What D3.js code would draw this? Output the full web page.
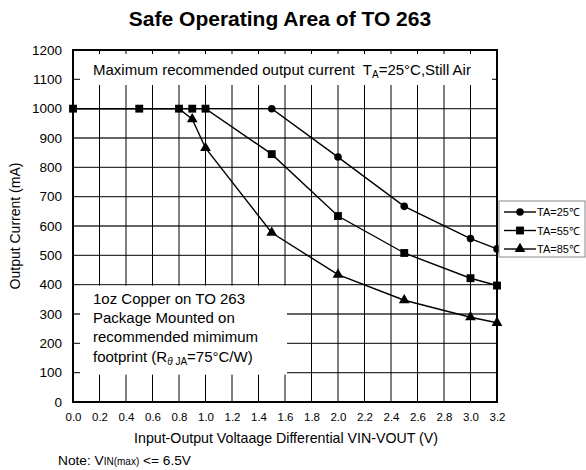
<!DOCTYPE html>
<html>
<head>
<meta charset="utf-8">
<script src="https://cdn.jsdelivr.net/npm/d3@7"></script>
<style>
  body { margin: 0; background: #fff; }
  svg text { font-family: "Liberation Sans", Arial, sans-serif; fill: #000; }
</style>
</head>
<body>
<svg id="chart" width="586" height="470"></svg>
<script>
const voltage = [0, 0.5, 0.8, 0.9, 1.0, 1.5, 2.0, 2.5, 3.0, 3.2];
const current25 = [1000, 1000, 1000, 1000, 1000, 1000, 835, 667, 557, 522];
const current55 = [1000, 1000, 1000, 1000, 1000, 845, 634, 508, 422, 397];
const current85 = [1000, 1000, 1000, 964, 866, 577, 434, 347, 289, 270];
const seriesNames = ['TA=25℃', 'TA=55℃', 'TA=85℃'];
const xTicks = d3.range(0, 17).map(i => i * 0.2);
const yTicks = d3.range(0, 13).map(i => i * 100);

const svg = d3.select('#chart');
const margin = { left: 73, right: 89, top: 50, bottom: 68 };
const W = 586, H = 470;

const x = d3.scaleLinear().domain([0, 3.2]).range([margin.left, W - margin.right]);
const y = d3.scaleLinear().domain([0, 1200]).range([H - margin.bottom, margin.top]);

// grid
svg.append('g').selectAll('line')
    .data(yTicks)
    .enter().append('line')
    .attr('x1', x(0)).attr('x2', x(3.2))
    .attr('y1', d => y(d)).attr('y2', d => y(d))
    .attr('stroke', '#333').attr('stroke-width', 1.4);

svg.append('g').selectAll('line')
    .data(xTicks)
    .enter().append('line')
    .attr('x1', d => x(d)).attr('x2', d => x(d))
    .attr('y1', y(0)).attr('y2', y(1200))
    .attr('stroke', '#000').attr('stroke-width', 1);

// white note boxes covering the grid
svg.append('rect')
    .attr('x', x(0) + 7).attr('y', y(1200) + 4)
    .attr('width', x(3.2) - x(0) - 12).attr('height', 31)
    .attr('fill', '#fff');

svg.append('rect')
    .attr('x', x(0) + 7).attr('y', y(400) + 1)
    .attr('width', 207).attr('height', y(100) - y(400) + 1)
    .attr('fill', '#fff');

// frame
svg.append('rect')
    .attr('x', x(0)).attr('y', y(1200))
    .attr('width', x(3.2) - x(0)).attr('height', y(0) - y(1200))
    .attr('fill', 'none').attr('stroke', '#000').attr('stroke-width', 2);

// axes
const xAxis = svg.append('g')
    .attr('transform', `translate(0,${y(0)})`)
    .call(d3.axisBottom(x).tickValues(xTicks).tickFormat(d3.format('.1f')).tickSize(0).tickPadding(11));
xAxis.select('.domain').remove();
xAxis.selectAll('text').attr('font-size', 11.5);

const yAxis = svg.append('g')
    .attr('transform', `translate(${x(0)},0)`)
    .call(d3.axisLeft(y).tickValues(yTicks).tickFormat(d3.format('d')).tickSize(0).tickPadding(11));
yAxis.select('.domain').remove();
yAxis.selectAll('text').attr('font-size', 13.5);

// series
const symbols = [d3.symbolCircle, d3.symbolSquare, d3.symbolTriangle];
const sizes = [45, 62, 50];
const allSeries = [current25, current55, current85];
const line = d3.line().x((d, i) => x(voltage[i])).y(d => y(d));

[0, 2, 1].forEach(k => {
    const vals = allSeries[k];
    svg.append('path')
        .datum(vals)
        .attr('d', line)
        .attr('fill', 'none')
        .attr('stroke', '#000')
        .attr('stroke-width', 1.4);
});

// markers; points sitting on a 55℃ square are hidden behind it
[0, 2, 1].forEach(k => {
    const pts = allSeries[k].map((v, i) => ({ v: v, i: i }))
        .filter(p => k === 1 || p.v !== current55[p.i]);
    svg.append('g').selectAll('path')
        .data(pts)
        .enter().append('path')
        .attr('d', d3.symbol().type(symbols[k]).size(sizes[k]))
        .attr('transform', p => `translate(${x(voltage[p.i])},${y(p.v)})`)
        .attr('fill', '#000');
});

// title
svg.append('text')
    .attr('x', 280).attr('y', 26)
    .attr('text-anchor', 'middle')
    .attr('font-size', 21).attr('font-weight', 'bold')
    .text('Safe Operating Area of TO 263');

// axis titles
svg.append('text')
    .attr('x', 286).attr('y', 443)
    .attr('text-anchor', 'middle')
    .attr('font-size', 14.2)
    .text('Input-Output Voltaage Differential VIN-VOUT (V)');

svg.append('text')
    .attr('transform', 'translate(20,226) rotate(-90)')
    .attr('text-anchor', 'middle')
    .attr('font-size', 14)
    .text('Output Current (mA)');

// note
const note = svg.append('text').attr('x', 58).attr('y', 465).attr('font-size', 13.7);
note.append('tspan').text('Note: V');
note.append('tspan').attr('font-size', 10).text('IN(max)');
note.append('tspan').text(' <= 6.5V');

// top annotation
const topNote = svg.append('text').attr('x', 93).attr('y', 75).attr('font-size', 15);
topNote.append('tspan').text('Maximum recommended output current');
topNote.append('tspan').attr('dx', 8).text('T');
topNote.append('tspan').attr('font-size', 10).attr('dy', 3).text('A');
topNote.append('tspan').attr('dy', -3).text('=25°C,Still Air');

// bottom-left annotation
const noteLines = ['1oz Copper on TO 263', 'Package Mounted on', 'recommended mimimum'];
svg.append('g').selectAll('text')
    .data(noteLines)
    .enter().append('text')
    .attr('x', 93).attr('y', (d, i) => 304 + i * 19.2)
    .attr('font-size', 15)
    .text(d => d);
const fp = svg.append('text').attr('x', 93).attr('y', 304 + 3 * 19.2).attr('font-size', 15);
fp.append('tspan').text('footprint (R');
fp.append('tspan').attr('font-size', 10).attr('font-style', 'italic').attr('dy', 3).text('θ');
fp.append('tspan').attr('font-size', 10).text(' JA');
fp.append('tspan').attr('dy', -3).text('=75°C/W)');

// legend
const lg = svg.append('g').attr('transform', 'translate(499,201)');
lg.append('rect')
    .attr('width', 86).attr('height', 56)
    .attr('fill', '#fff').attr('stroke', '#888').attr('stroke-width', 1);
const item = lg.selectAll('g.item')
    .data(seriesNames)
    .enter().append('g')
    .attr('class', 'item')
    .attr('transform', (d, i) => `translate(0,${11 + i * 18.5})`);
item.append('line')
    .attr('x1', 5).attr('x2', 37)
    .attr('stroke', '#000').attr('stroke-width', 1.4);
item.append('path')
    .attr('d', (d, i) => d3.symbol().type(symbols[i]).size(sizes[i])())
    .attr('transform', 'translate(21,0)');
item.append('text')
    .attr('x', 38).attr('y', 4)
    .attr('font-size', 11)
    .text(d => d);
</script>
</body>
</html>
